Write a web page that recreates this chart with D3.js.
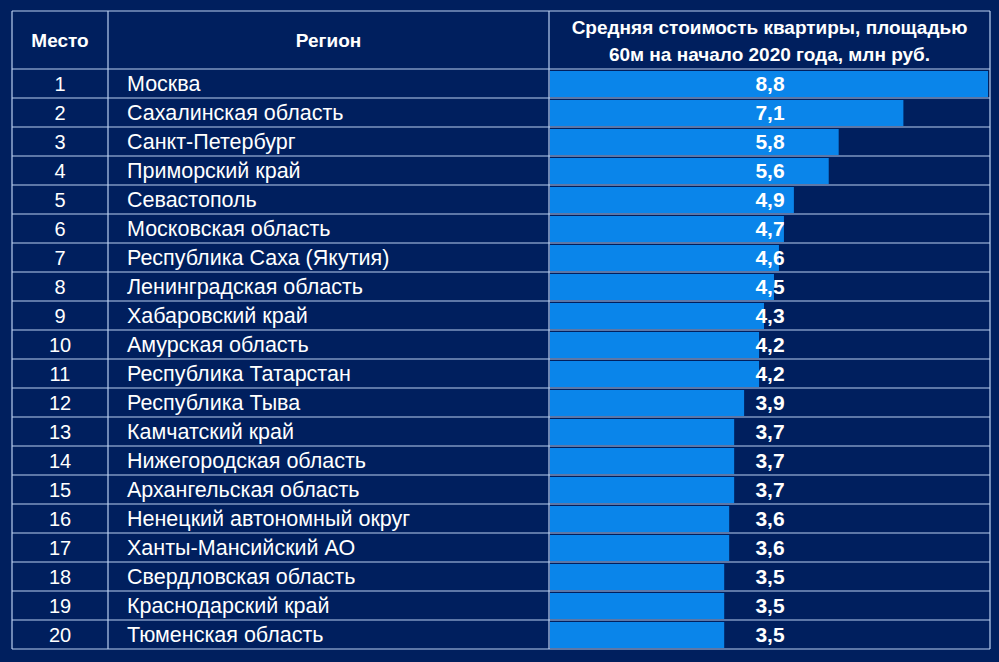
<!DOCTYPE html>
<html><head><meta charset="utf-8">
<script src="https://d3js.org/d3.v7.min.js"></script>
<style>body{margin:0;background:#001f5e;}svg{display:block}</style>
</head><body><div id="c"></div>
<script>
const ranks=[1,2,3,4,5,6,7,8,9,10,11,12,13,14,15,16,17,18,19,20];
const regions=["Москва","Сахалинская область","Санкт-Петербург","Приморский край","Севастополь","Московская область","Республика Саха (Якутия)","Ленинградская область","Хабаровский край","Амурская область","Республика Татарстан","Республика Тыва","Камчатский край","Нижегородская область","Архангельская область","Ненецкий автономный округ","Ханты-Мансийский АО","Свердловская область","Краснодарский край","Тюменская область"];
const values=[8.8,7.1,5.8,5.6,4.9,4.7,4.6,4.5,4.3,4.2,4.2,3.9,3.7,3.7,3.7,3.6,3.6,3.5,3.5,3.5];
const headers=["Место","Регион",["Средняя стоимость квартиры, площадью","60м на начало 2020 года, млн руб."]];

const W=999,H=662,L=12,C1=108,C2=549,R=990,T=11,HB=69,RH=29;
const svg=d3.select("#c").append("svg").attr("width",W).attr("height",H);
svg.append("rect").attr("width",W).attr("height",H).attr("fill","#001f5e");
const y=d3.scaleBand().domain(ranks).range([HB,HB+RH*ranks.length]).padding(0);
const x=d3.scaleLinear().domain([0,8.8]).range([C2+1,R-2]);
const font="'Liberation Sans', Arial, sans-serif";
svg.selectAll(".bar").data(values).join("rect")
 .attr("x",x(0)).attr("y",(d,i)=>y(ranks[i])+2).attr("height",y.bandwidth()-3)
 .attr("width",d=>x(d)-x(0)).attr("fill","#0a85ea");
const g=svg.append("g").attr("stroke","#b9cff0").attr("stroke-width",1.2);
[L,C1,C2,R].forEach(xx=>g.append("line").attr("x1",xx).attr("x2",xx).attr("y1",T).attr("y2",HB+RH*20));
g.append("line").attr("x1",L).attr("x2",R).attr("y1",T).attr("y2",T);
d3.range(21).forEach(i=>g.append("line").attr("x1",L).attr("x2",R).attr("y1",HB+RH*i).attr("y2",HB+RH*i));
const hy=(T+HB)/2;
const hs=19;
svg.append("text").attr("x",(L+C1)/2).attr("y",hy+7).attr("text-anchor","middle").attr("fill","#fff").attr("font-family",font).attr("font-weight","bold").attr("font-size",hs).text(headers[0]);
svg.append("text").attr("x",(C1+C2)/2).attr("y",hy+7).attr("text-anchor","middle").attr("fill","#fff").attr("font-family",font).attr("font-weight","bold").attr("font-size",hs).text(headers[1]);
headers[2].forEach((t,i)=>svg.append("text").attr("x",(C2+R)/2).attr("y",hy-6+i*27).attr("text-anchor","middle").attr("fill","#fff").attr("font-family",font).attr("font-weight","bold").attr("font-size",hs).text(t));
const rows=svg.selectAll(".row").data(ranks).join("g").attr("transform",d=>`translate(0,${y(d)+y.bandwidth()/2+7})`);
rows.append("text").attr("x",(L+C1)/2).attr("text-anchor","middle").attr("fill","#fff").attr("font-family",font).attr("font-size",20).text(d=>d);
rows.append("text").attr("x",127).attr("fill","#fff").attr("font-family",font).attr("font-size",21.5).text((d,i)=>regions[i]);
rows.append("text").attr("x",770).attr("text-anchor","middle").attr("fill","#fff").attr("font-family",font).attr("font-weight","bold").attr("font-size",21).text((d,i)=>String(values[i]).replace(".",","));
</script></body></html>
